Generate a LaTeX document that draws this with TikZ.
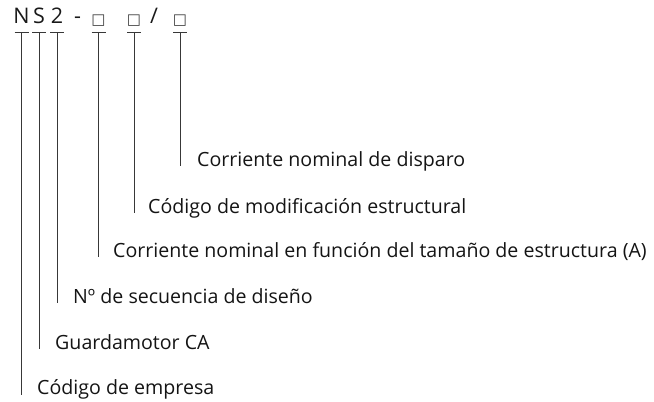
\documentclass[tikz,border=0pt]{standalone}
\usepackage{fontspec}
\setmainfont{Open Sans}
\newfontfamily\symfont{DejaVu Sans}
\begin{document}
\begin{tikzpicture}[x=1pt,y=-1pt,
  ttl/.style={inner sep=0pt,anchor=base,font=\fontsize{21.5}{25}\selectfont,text=black!90},
  bx/.style={inner sep=0pt,anchor=base,font=\symfont\fontsize{15}{17}\selectfont,text=black!75},
  lbl/.style={inner sep=0pt,anchor=base west,font=\fontsize{19.6}{23}\selectfont,text=black!92},
  tick/.style={draw=black!78,line width=0.9pt},
  lead/.style={draw=black!78,line width=0.9pt}]
\useasboundingbox (0,0) rectangle (654,402);
% title characters
\node[ttl] (tN) at (21.5,23) {N};
\node[ttl] (tS) at (39,23) {S};
\node[ttl] (t2) at (57,23) {2};
\node[ttl] (td) at (77.5,23) {-};
\node[bx] (b1) at (98.5,24.5) {□};
\node[bx] (b2) at (134,24.5) {□};
\node[ttl] (tsl) at (154,23) {/};
\node[bx] (b3) at (180,24.5) {□};
% tick tops
\foreach \n/\x in {N/21.5,S/39,2/57,b1/98.5,b2/134,b3/180}{
  \coordinate (k\n) at (\x,32);
  \draw[tick] (\x-7,32) -- (\x+7,32);
}
% labels
\node[lbl] (l6) at (197,166) {Corriente nominal de disparo};
\node[lbl] (l5) at (148,213) {Código de modificación estructural};
\node[lbl] (l4) at (113,257) {Corriente nominal en función del tamaño de estructura (A)};
\node[lbl] (l3) at (73,303) {Nº de secuencia de diseño};
\node[lbl] (l2) at (55,349) {Guardamotor CA};
\node[lbl] (l1) at (37,394) {Código de empresa};
% leader ends
\coordinate (e6) at (180,166);
\coordinate (e5) at (134,213);
\coordinate (e4) at (98.5,257);
\coordinate (e3) at (57,303);
\coordinate (e2) at (39,349);
\coordinate (e1) at (21.5,395);
\draw[lead] (kb3) -- (e6);
\draw[lead] (kb2) -- (e5);
\draw[lead] (kb1) -- (e4);
\draw[lead] (k2) -- (e3);
\draw[lead] (kS) -- (e2);
\draw[lead] (kN) -- (e1);
\end{tikzpicture}
\end{document}
